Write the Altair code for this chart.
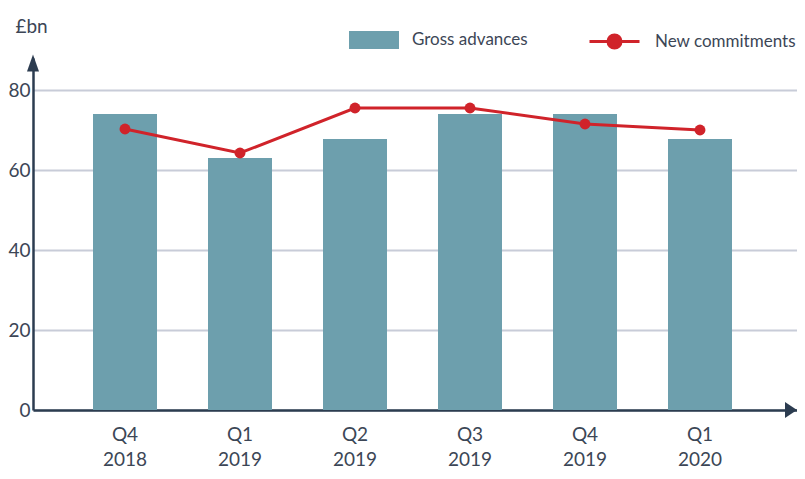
import altair as alt
import pandas as pd

# ---- data ----
quarters = ["Q4 2018", "Q1 2019", "Q2 2019", "Q3 2019", "Q4 2019", "Q1 2020"]
gross_advances = [74.0, 63.0, 67.75, 74.0, 74.0, 67.75]
new_commitments = [70.25, 64.25, 75.5, 75.5, 71.5, 70.0]
y_ticks = [0, 20, 40, 60, 80]

BAR = "#6d9fad"
RED = "#d0232a"
NAVY = "#2c3c50"
GRID = "#c8ccd8"
TEXT = "#3c4656"
FONT = "Lato"

df = pd.DataFrame({
    "quarter": quarters,
    "gross": gross_advances,
    "commit": new_commitments,
    "s": ["Gross advances"] * len(quarters),
    "s2": ["New commitments"] * len(quarters),
})

x_enc = alt.X(
    "quarter:N", sort=quarters, title=None,
    scale=alt.Scale(paddingInner=0.4435, paddingOuter=0.5435, align=0.48),
    axis=alt.Axis(labelAngle=0, labelExpr="split(datum.value, ' ')",
                  labelFontSize=19, labelColor=TEXT, labelFont=FONT,
                  labelLineHeight=25, labelPadding=15, labelBaseline="top",
                  ticks=False, grid=False, domainColor=NAVY, domainWidth=2.5),
)
y_scale = alt.Scale(domain=[0, 88], nice=False, zero=True)

rect_path = "M-1,-0.36L1,-0.36L1,0.36L-1,0.36Z"
line_path = ("M-1,0L1,0M0.26,0A0.26,0.26,0,1,1,-0.26,0"
             "A0.26,0.26,0,1,1,0.26,0Z")

bars = alt.Chart(df).mark_bar(opacity=1).encode(
    x=x_enc,
    y=alt.Y("gross:Q", scale=y_scale, title="£bn",
            axis=alt.Axis(values=y_ticks, grid=True, gridColor=GRID, gridWidth=2,
                          ticks=False, domainColor=NAVY, domainWidth=2.5,
                          labelFontSize=19, labelColor=TEXT, labelFont=FONT,
                          labelPadding=3,
                          titleAngle=0, titleX=-2, titleY=-32, titleAlign="center",
                          titleBaseline="middle", titleFontSize=19,
                          titleFontWeight="normal", titleColor=TEXT, titleFont=FONT)),
    fill=alt.Fill("s:N", scale=alt.Scale(domain=["Gross advances"], range=[BAR]),
                  legend=alt.Legend(title=None, orient="none", legendX=316, legendY=-43,
                                    symbolType=rect_path, symbolSize=2500,
                                    symbolStrokeWidth=0, symbolOpacity=1, padding=0,
                                    labelFontSize=17, labelColor=TEXT, labelFont=FONT,
                                    labelOffset=13)),
)

line = alt.Chart(df).mark_line(strokeWidth=3).encode(
    x=alt.X("quarter:N", sort=quarters),
    y=alt.Y("commit:Q", scale=y_scale),
    stroke=alt.Stroke("s2:N", scale=alt.Scale(domain=["New commitments"], range=[RED]),
                      legend=alt.Legend(title=None, orient="none", legendX=555, legendY=-43,
                                        symbolType=line_path, symbolSize=2500,
                                        symbolStrokeWidth=3, symbolFillColor=RED,
                                        symbolStrokeColor=RED, symbolOpacity=1,
                                        padding=0, labelFontSize=17, labelColor=TEXT,
                                        labelFont=FONT, labelOffset=14, labelLimit=300)),
)

points = alt.Chart(df).mark_point(filled=True, size=120, opacity=1, color=RED).encode(
    x=alt.X("quarter:N", sort=quarters),
    y=alt.Y("commit:Q", scale=y_scale),
)

one = pd.DataFrame({"a": [0]})
y_arrow = alt.Chart(one).mark_point(
    shape="M0,-1.0625L0.75,1.0625L-0.75,1.0625Z", filled=True, size=256,
    opacity=1, color=NAVY, clip=False,
).encode(x=alt.value(0), y=alt.value(5))
x_arrow = alt.Chart(one).mark_point(
    shape="M-0.75,-1L0.75,0L-0.75,1Z", filled=True, size=256,
    opacity=1, color=NAVY, clip=False,
).encode(x=alt.value(758), y=alt.value(352))

chart = alt.layer(bars, line, points, y_arrow, x_arrow).resolve_scale(
    fill="independent", stroke="independent"
).properties(
    width=764, height=352,
    padding={"left": 25, "top": 50, "right": 0, "bottom": 60},
    autosize=alt.AutoSizeParams(type="none"),
    view=alt.ViewBackground(stroke="transparent"),
).configure_view(stroke="transparent").configure(font=FONT)

chart.save("out.html", embed_options={"renderer": "svg", "actions": False})
